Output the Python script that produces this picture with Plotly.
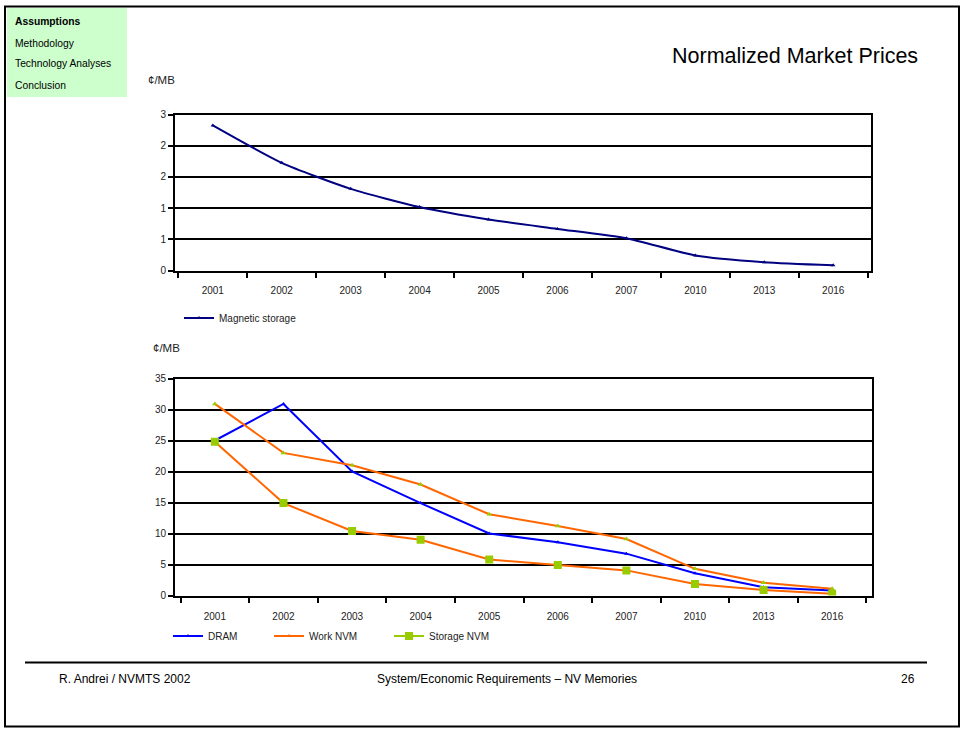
import plotly.graph_objects as go

years = ["2001", "2002", "2003", "2004", "2005", "2006", "2007", "2010", "2013", "2016"]
magnetic = [2.79, 2.07, 1.57, 1.22, 0.98, 0.80, 0.62, 0.29, 0.16, 0.10]
dram = [25.0, 30.9, 20.0, 14.9, 10.0, 8.6, 6.75, 3.6, 1.35, 0.8]
work_nvm = [30.9, 23.0, 21.0, 17.9, 13.1, 11.2, 9.1, 4.3, 2.05, 1.1]
storage_nvm = [24.8, 14.9, 10.4, 9.0, 5.8, 4.9, 4.05, 1.85, 0.9, 0.3]

top_tickvals = [0, 0.6, 1.2, 1.8, 2.4, 3.0]
top_ticktext = ["0", "1", "1", "2", "2", "3"]
bot_tickvals = [0, 5, 10, 15, 20, 25, 30, 35]

W, H = 965, 730
FONT = "Liberation Sans, Arial, sans-serif"
NAVY = "#000080"
BLUE = "#0000ff"
ORANGE = "#ff6600"
GREEN = "#99cc00"
TXT = "#222222"


def px(x):
    return x / W


def py(y):
    return 1 - y / H


fig = go.Figure()

fig.add_trace(go.Scatter(x=years, y=magnetic, name="Magnetic storage", mode="lines+markers",
                         line=dict(color=NAVY, width=2, shape="spline", smoothing=0.6),
                         marker=dict(symbol="triangle-up", size=4, color=NAVY),
                         xaxis="x", yaxis="y", legend="legend"))

fig.add_trace(go.Scatter(x=years, y=dram, name="DRAM", mode="lines+markers",
                         line=dict(color=BLUE, width=2),
                         marker=dict(symbol="triangle-up", size=4, color=BLUE),
                         xaxis="x2", yaxis="y2", showlegend=False))
fig.add_trace(go.Scatter(x=years, y=work_nvm, name="Work NVM", mode="lines+markers",
                         line=dict(color=ORANGE, width=2),
                         marker=dict(symbol="triangle-up", size=5, color=GREEN),
                         xaxis="x2", yaxis="y2", showlegend=False))
fig.add_trace(go.Scatter(x=years, y=storage_nvm, name="Storage NVM", mode="lines+markers",
                         line=dict(color=ORANGE, width=2),
                         marker=dict(symbol="square", size=8, color=GREEN),
                         xaxis="x2", yaxis="y2", showlegend=False))

# legend entries for the lower chart (as shown in the original key)
fig.add_trace(go.Scatter(x=[None], y=[None], name="DRAM", mode="lines+markers",
                         line=dict(color=BLUE, width=2), marker=dict(symbol="triangle-up", size=4, color=BLUE),
                         xaxis="x2", yaxis="y2", legend="legend2"))
fig.add_trace(go.Scatter(x=[None], y=[None], name="Work NVM", mode="lines+markers",
                         line=dict(color=ORANGE, width=2), marker=dict(symbol="triangle-up", size=4, color=ORANGE),
                         xaxis="x2", yaxis="y2", legend="legend3"))
fig.add_trace(go.Scatter(x=[None], y=[None], name="Storage NVM", mode="lines+markers",
                         line=dict(color=GREEN, width=2), marker=dict(symbol="square", size=8, color=GREEN),
                         xaxis="x2", yaxis="y2", legend="legend4"))

axis_common = dict(showline=True, linecolor="black", linewidth=2, mirror=True,
                   ticks="outside", tickcolor="black", tickwidth=2, ticklen=5,
                   tickfont=dict(family=FONT, size=10, color=TXT), zeroline=False)

legend_common = dict(yanchor="middle", xanchor="left", orientation="h",
                     font=dict(family=FONT, size=10, color=TXT), bgcolor="rgba(0,0,0,0)",
                     itemwidth=30)

fig.update_layout(
    width=W, height=H, margin=dict(l=0, r=0, t=0, b=0, autoexpand=False),
    paper_bgcolor="white", plot_bgcolor="white",
    xaxis=dict(domain=[px(175), px(871)], anchor="y", type="category", tickson="boundaries",
               showgrid=False, ticklabelstandoff=9, **axis_common),
    yaxis=dict(domain=[py(270.5), py(114.5)], anchor="x", range=[0, 3], tickvals=top_tickvals,
               ticktext=top_ticktext, showgrid=True, gridcolor="black", gridwidth=2, **axis_common),
    xaxis2=dict(domain=[px(175), px(872)], anchor="y2", type="category", tickson="boundaries",
                showgrid=False, ticklabelstandoff=10, **axis_common),
    yaxis2=dict(domain=[py(595.5), py(378.5)], anchor="x2", range=[0, 35], tickvals=bot_tickvals,
                showgrid=True, gridcolor="black", gridwidth=2, **axis_common),
    legend=dict(x=px(179), y=py(318), **legend_common),
    legend2=dict(x=px(168), y=py(636), **legend_common),
    legend3=dict(x=px(269), y=py(636), **legend_common),
    legend4=dict(x=px(389), y=py(636), **legend_common),
)

shapes = [
    dict(type="rect", xref="paper", yref="paper", x0=px(5), x1=px(959), y0=py(726.5), y1=py(6.5),
         line=dict(color="black", width=2), fillcolor="rgba(0,0,0,0)", layer="below"),
    dict(type="rect", xref="paper", yref="paper", x0=px(7), x1=px(127), y0=py(97), y1=py(8),
         line=dict(width=0), fillcolor="#ccffcc", layer="below"),
    dict(type="line", xref="paper", yref="paper", x0=px(25), x1=px(927), y0=py(662.5), y1=py(662.5),
         line=dict(color="black", width=2)),
]

annotations = []
nav = [("<b>Assumptions</b>", 21), ("Methodology", 43), ("Technology Analyses", 63), ("Conclusion", 85)]
for t, y in nav:
    annotations.append(dict(text=t, x=px(13), y=py(y), xref="paper", yref="paper", xanchor="left",
                            yanchor="middle", showarrow=False, font=dict(family=FONT, size=10.3, color="black")))
annotations.append(dict(text="Normalized Market Prices", x=px(920), y=py(56), xref="paper", yref="paper",
                        xanchor="right", yanchor="middle", showarrow=False,
                        font=dict(family=FONT, size=21.5, color="black")))
for x, y in ((146, 80), (151, 348)):
    annotations.append(dict(text="¢/MB", x=px(x), y=py(y), xref="paper", yref="paper", xanchor="left",
                            yanchor="middle", showarrow=False, font=dict(family=FONT, size=11.5, color=TXT)))
annotations.append(dict(text="R. Andrei / NVMTS 2002", x=px(57), y=py(679), xref="paper", yref="paper",
                        xanchor="left", yanchor="middle", showarrow=False,
                        font=dict(family=FONT, size=12, color="black")))
annotations.append(dict(text="System/Economic Requirements – NV Memories", x=px(507), y=py(679), xref="paper",
                        yref="paper", xanchor="center", yanchor="middle", showarrow=False,
                        font=dict(family=FONT, size=12, color="black")))
annotations.append(dict(text="26", x=px(917), y=py(679), xref="paper", yref="paper", xanchor="right",
                        yanchor="middle", showarrow=False, font=dict(family=FONT, size=12, color="black")))

fig.update_layout(shapes=shapes, annotations=annotations)

fig.write_html("out.html", config={"displayModeBar": False},
               post_script="document.body.style.margin='0px';")
